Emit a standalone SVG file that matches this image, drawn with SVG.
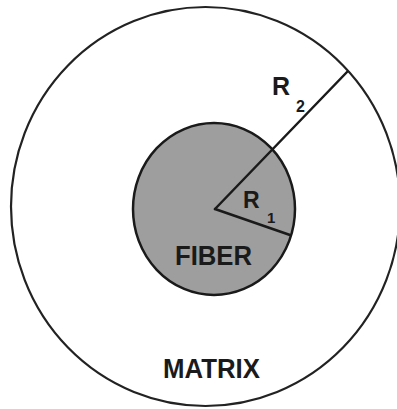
<svg xmlns="http://www.w3.org/2000/svg" width="397" height="409" viewBox="0 0 397 409">
<style>
.lbl{font-family:"Liberation Sans",Arial,sans-serif;font-weight:bold;fill:#1a1a1a}
.ln{stroke:#1a1a1a;stroke-width:2.5;fill:none;stroke-linecap:round}
</style>
<rect width="397" height="409" fill="#ffffff"/>
<g id="matrix">
<ellipse cx="205.5" cy="206.5" rx="194.5" ry="199.5" fill="#ffffff" stroke="#222" stroke-width="2.2"/>
<text class="lbl" x="163" y="378" font-size="27" textLength="97" lengthAdjust="spacingAndGlyphs">MATRIX</text>
</g>
<g id="fiber">
<ellipse cx="214" cy="209" rx="81" ry="86" fill="#9e9e9e" stroke="#1a1a1a" stroke-width="2.5"/>
<text class="lbl" x="175" y="265" font-size="27" textLength="77" lengthAdjust="spacingAndGlyphs">FIBER</text>
</g>
<g id="connectors">
<line class="ln" x1="215" y1="209" x2="347" y2="72"/>
<line class="ln" x1="215" y1="209" x2="290" y2="235"/>
</g>
<g id="r2">
<text class="lbl" x="272" y="95" font-size="25">R</text>
<text class="lbl" x="296" y="112" font-size="16">2</text>
</g>
<g id="r1">
<text class="lbl" x="243" y="208" font-size="23">R</text>
<text class="lbl" x="267" y="223" font-size="15">1</text>
</g>
</svg>
